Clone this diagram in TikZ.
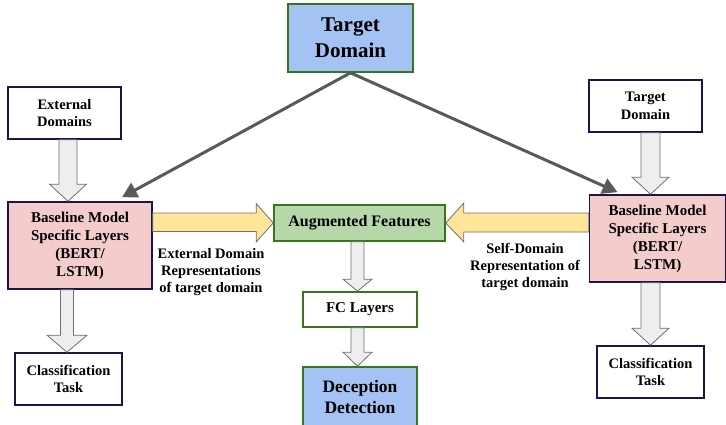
\documentclass[tikz,border=0pt]{standalone}
\usepackage{fontspec}
\setmainfont{Liberation Serif}
\usetikzlibrary{calc,arrows.meta}
\definecolor{tblue}{HTML}{A4C2F4}
\definecolor{tgreen}{HTML}{38761D}
\definecolor{lgreen}{HTML}{B6D7A8}
\definecolor{tpink}{HTML}{F4CCCC}
\definecolor{tpurple}{HTML}{20124D}
\definecolor{tyellow}{HTML}{FFE599}
\definecolor{tgrayfill}{HTML}{EEEEEE}
\definecolor{tgrayline}{HTML}{707070}
\definecolor{tdark}{HTML}{595959}
\tikzset{
  box/.style={draw, line width=1.6pt, inner sep=0pt, align=center, font=\bfseries\fontsize{14.5}{17.5}\selectfont},
  purplebox/.style={box, draw=tpurple, fill=white},
  greenbox/.style={box, draw=tgreen, fill=white},
  pinkbox/.style={box, draw=tpurple, fill=tpink, font=\bfseries\fontsize{15}{18}\selectfont},
  bluebox/.style={box, draw=tgreen, fill=tblue},
  grayarr/.style={draw=tgrayline, fill=tgrayfill, line width=0.8pt, line join=miter},
  yelarr/.style={draw=tgrayline, fill=tyellow, line width=0.8pt, line join=miter},
  darkarr/.style={draw=tdark, line width=3pt, -{Triangle[length=15pt,width=16pt]}},
  lbl/.style={align=center, inner sep=0pt, font=\bfseries\fontsize{14.5}{17}\selectfont}
}
% vertical block arrow: style, x centre, from node, to node, shaft half width, head half width, head length
\newcommand{\vblockarrow}[7]{%
  \path[#1] let \p1=(#3.south), \p2=(#4.north) in
    (#2-#5,\y1) -- (#2+#5,\y1) -- (#2+#5,\y2+#7) -- (#2+#6,\y2+#7) -- (#2,\y2)
    -- (#2-#6,\y2+#7) -- (#2-#5,\y2+#7) -- cycle;}
\begin{document}
\begin{tikzpicture}[x=1pt,y=-1pt]
\useasboundingbox (0,0) rectangle (726,424);

% boxes
\node[bluebox, minimum width=125pt, minimum height=68pt, font=\bfseries\fontsize{21}{26}\selectfont] (target) at (350.5,38) {Target\\Domain};
\node[purplebox, minimum width=113pt, minimum height=52pt] (ext) at (64.5,113) {External\\Domains};
\node[pinkbox, minimum width=144pt, minimum height=87pt] (lpink) at (80,245.5) {Baseline Model\\Specific Layers\\(BERT/\\LSTM)};
\node[purplebox, minimum width=107pt, minimum height=52pt] (lcls) at (68.5,379) {Classification\\Task};
\node[purplebox, minimum width=113pt, minimum height=52pt] (tsmall) at (645.5,106) {Target\\Domain};
\node[pinkbox, minimum width=136pt, minimum height=87pt] (rpink) at (657.5,238.5) {Baseline Model\\Specific Layers\\(BERT/\\LSTM)};
\node[purplebox, minimum width=107pt, minimum height=52pt] (rcls) at (650.5,372) {Classification\\Task};
\node[box, draw=tgreen, fill=lgreen, minimum width=171pt, minimum height=36pt, font=\bfseries\fontsize{16}{19}\selectfont] (aug) at (359.5,223) {Augmented Features};
\node[greenbox, minimum width=114pt, minimum height=35pt, font=\bfseries\fontsize{15}{18}\selectfont] (fc) at (360,309.5) {FC Layers};
\node[bluebox, minimum width=114pt, minimum height=60pt, font=\bfseries\fontsize{17.5}{20.5}\selectfont] (dec) at (360,397) {Deception\\Detection};

% gray block arrows
\vblockarrow{grayarr}{68pt}{ext}{lpink}{9pt}{18.5pt}{17pt}
\vblockarrow{grayarr}{67pt}{lpink}{lcls}{6.5pt}{20pt}{17pt}
\vblockarrow{grayarr}{650.5pt}{tsmall}{rpink}{9.5pt}{18.5pt}{17pt}
\vblockarrow{grayarr}{650.5pt}{rpink}{rcls}{9.5pt}{18.5pt}{17pt}
\vblockarrow{grayarr}{357.5pt}{aug}{fc}{6.5pt}{14.5pt}{12pt}
\vblockarrow{grayarr}{357.5pt}{fc}{dec}{6.5pt}{14.5pt}{14pt}

% yellow block arrows
\path[yelarr] let \p1=(lpink.east), \p2=(aug.west) in
  (\x1,\y2+10pt) -- (\x2-17pt,\y2+10pt) -- (\x2-17pt,\y2+19.5pt) -- (\x2,\y2)
  -- (\x2-17pt,\y2-19pt) -- (\x2-17pt,\y2-8.5pt) -- (\x1,\y2-8.5pt) -- cycle;
\path[yelarr] let \p1=(rpink.west), \p2=(aug.east) in
  (\x1,\y2+10pt) -- (\x2+18pt,\y2+10pt) -- (\x2+18pt,\y2+20pt) -- (\x2,\y2)
  -- (\x2+18pt,\y2-19pt) -- (\x2+18pt,\y2-9pt) -- (\x1,\y2-9pt) -- cycle;

% dark arrows
\coordinate (lend) at ($(lpink.north)+(42,-4)$);
\coordinate (rend) at ($(rpink.north)+(-40,-2)$);
\draw[darkarr] (target.south) -- (lend);
\draw[darkarr] (target.south) -- (rend);

% labels
\node[lbl] (lab1) at (211,272) {External Domain\\Representations\\of target domain};
\node[lbl] (lab2) at (525,266.5) {Self-Domain\\Representation of\\target domain};
\end{tikzpicture}
\end{document}
